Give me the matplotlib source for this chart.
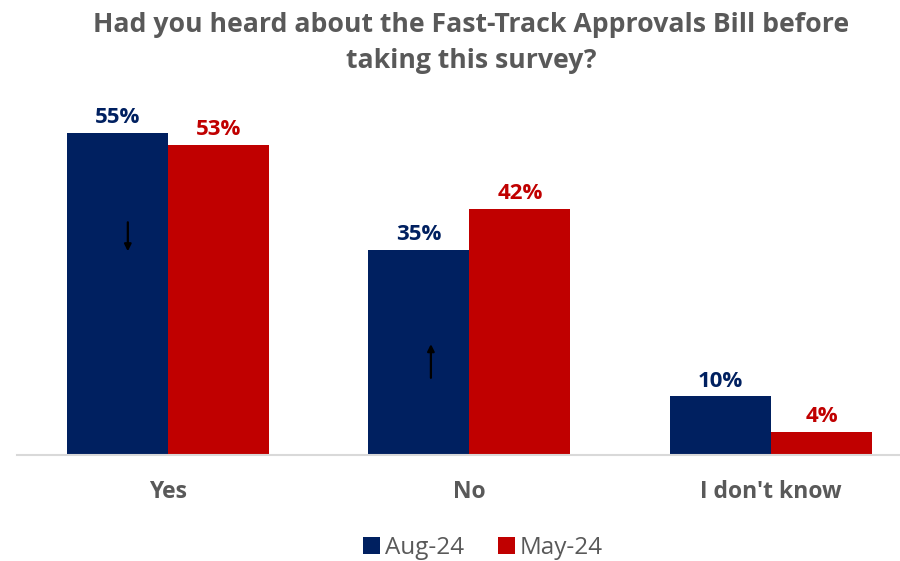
import matplotlib.pyplot as plt
import numpy as np

# Umfragedaten
kategorien = ["Yes", "No", "I don't know"]
aug_24 = [55, 35, 10]
may_24 = [53, 42, 4]
serien = ["Aug-24", "May-24"]
farben = ["#002060", "#C00000"]
grau = "#595959"

plt.rcParams['font.family'] = ['Open Sans', 'DejaVu Sans']

fig = plt.figure(figsize=(9.0, 5.61), dpi=100)
ax = fig.add_axes([17 / 900, 106 / 561, 883 / 900, 355 / 561])

x = np.arange(len(kategorien))
breite = 0.335

b1 = ax.bar(x - breite / 2, aug_24, breite, color=farben[0], label=serien[0])
b2 = ax.bar(x + breite / 2, may_24, breite, color=farben[1], label=serien[1])

for bars, werte, farbe in [(b1, aug_24, farben[0]), (b2, may_24, farben[1])]:
    for bar, w in zip(bars, werte):
        ax.text(bar.get_x() + bar.get_width() / 2, w + 0.8, f"{w}%",
                ha='center', va='bottom', color=farbe, fontsize=16, fontweight='bold')

# Pfeile fuer Veraenderung
pfeil = dict(arrowstyle='-|>', color='black', lw=1.6, mutation_scale=10)
ax.annotate('', xy=(x[0] - breite / 2 + 0.035, 34.3), xytext=(x[0] - breite / 2 + 0.035, 40.2),
            arrowprops=pfeil)
ax.annotate('', xy=(x[1] - breite / 2 + 0.04, 19.4), xytext=(x[1] - breite / 2 + 0.04, 12.7),
            arrowprops=pfeil)

ax.set_xlim(-0.5, 2.428)
ax.set_ylim(0, 60.6)
ax.set_xticks(x)
ax.set_xticklabels(kategorien, fontsize=16.5, fontweight='bold', color=grau)
ax.tick_params(axis='x', length=0, pad=18)
ax.set_yticks([])
for s in ['top', 'right', 'left']:
    ax.spines[s].set_visible(False)
ax.spines['bottom'].set_color('#D9D9D9')
ax.spines['bottom'].set_linewidth(1.5)

fig.text(471 / 900, 1 - 43 / 561, "Had you heard about the Fast-Track Approvals Bill before\ntaking this survey?",
         ha='center', va='center', fontsize=19.2, fontweight='bold', color=grau, linespacing=1.5)

fig.legend(loc='center', bbox_to_anchor=(483 / 900, 1 - 548 / 561), ncol=2, frameon=False,
           fontsize=17.5, labelcolor=grau, handlelength=0.7, handleheight=0.7,
           handletextpad=0.2, columnspacing=1.4)

plt.savefig("out.png", dpi=100)
